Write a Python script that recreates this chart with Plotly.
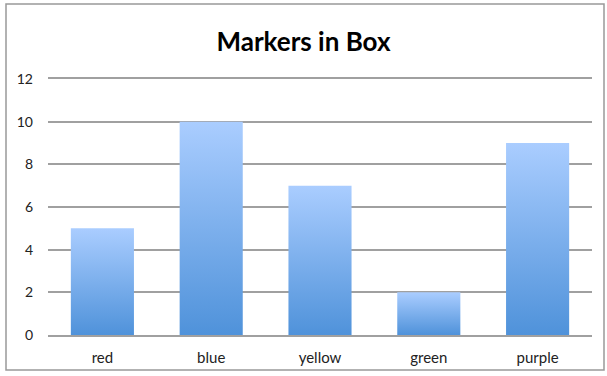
import plotly.graph_objects as go

categories = ["red", "blue", "yellow", "green", "purple"]
values = [5, 10, 7, 2, 9]
y_ticks = [0, 2, 4, 6, 8, 10, 12]

bar_half = 0.29
font_family = "Lato, 'Open Sans', sans-serif"
grid_color = "#A0A0A0"

fig = go.Figure()

for i, (cat, v) in enumerate(zip(categories, values)):
    xs = [i - bar_half, i + bar_half, i + bar_half, i - bar_half, i - bar_half]
    ys = [0, 0, v, v, 0]
    fig.add_trace(go.Scatter(
        x=xs, y=ys, mode="lines", fill="toself",
        line=dict(width=0, color="rgba(0,0,0,0)"),
        fillgradient=dict(type="vertical",
                          colorscale=[[0, "#4F92DA"], [1, "#AACDFF"]]),
        hoverinfo="skip", showlegend=False, name=cat,
    ))

fig.update_layout(
    width=607, height=376,
    margin=dict(l=48, r=15, t=79, b=41, autoexpand=False),
    paper_bgcolor="white", plot_bgcolor="white",
    title=dict(text="<b>Markers in Box</b>", x=0.5, xanchor="center",
               y=1 - 42 / 376, yanchor="middle",
               font=dict(family=font_family, size=26, color="black")),
    font=dict(family=font_family, size=14, color="#222222"),
    showlegend=False,
    xaxis=dict(range=[-0.5, len(categories) - 0.5], tickvals=list(range(len(categories))),
               ticktext=categories, showgrid=False, zeroline=False,
               showline=True, mirror=True, linecolor=grid_color, linewidth=1.5,
               ticks="", ticklabelstandoff=8, fixedrange=True, tickfont=dict(size=15)),
    yaxis=dict(range=[0, 12], tickvals=y_ticks, showgrid=True, gridcolor=grid_color,
               gridwidth=1.5, zeroline=False, showline=False, ticks="",
               ticklabelstandoff=14, tickfont=dict(size=14)),
    shapes=[dict(type="rect", xref="paper", yref="paper",
                 x0=-42 / 544, x1=1 + 12 / 544, y0=-35 / 256, y1=1 + 75 / 256,
                 line=dict(color="#999999", width=1.5), fillcolor="rgba(0,0,0,0)",
                 layer="below")],
)

fig.write_html("out.html")
